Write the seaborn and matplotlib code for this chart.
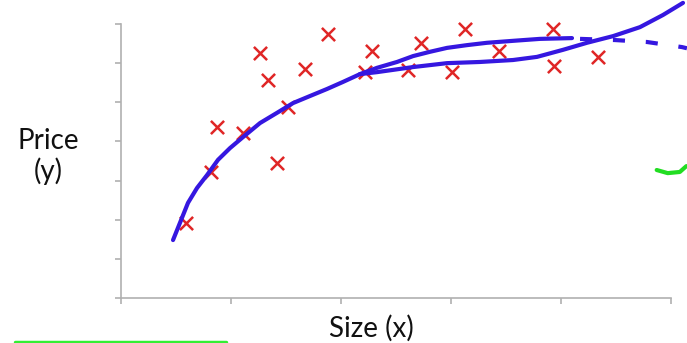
import matplotlib
matplotlib.use("Agg")
import matplotlib.pyplot as plt
import seaborn as sns
import pandas as pd

# Data points (Size, Price)
size_pts = [0.59, 0.82, 0.87, 1.11, 1.26, 1.34, 1.42, 1.52, 1.67, 1.88,
            2.22, 2.28, 2.61, 2.73, 3.01, 3.13, 3.44, 3.93, 3.94, 4.34]
price_pts = [1.92, 3.22, 4.37, 4.22, 6.26, 5.57, 3.45, 4.88, 5.85, 6.75,
             5.77, 6.31, 5.83, 6.52, 5.77, 6.87, 6.31, 6.87, 5.93, 6.16]

# Hand-drawn fits: shared start
shared_x = [0.473, 0.536, 0.609, 0.691, 0.782, 0.882, 0.991, 1.109, 1.264,
            1.418, 1.564, 1.718, 1.873, 2.018, 2.173]
shared_y = [1.48, 1.92, 2.43, 2.81, 3.14, 3.53, 3.83, 4.11, 4.47,
            4.73, 4.98, 5.16, 5.34, 5.52, 5.72]
# quadratic-looking fit (solid then dashed)
quad_x = [2.173, 2.327, 2.509, 2.655, 2.809, 2.964, 3.145, 3.327, 3.564, 3.809, 4.100]
quad_y = [5.72, 5.88, 6.03, 6.18, 6.29, 6.39, 6.46, 6.52, 6.57, 6.62, 6.64]
quad_dash_x = [4.173, 4.491, 4.782, 5.100, 5.145]
quad_dash_y = [6.62, 6.59, 6.54, 6.41, 6.38]
# cubic-looking fit
cubic_x = [2.173, 2.327, 2.655, 2.964, 3.264, 3.564, 3.782, 4.018, 4.236,
           4.473, 4.718, 4.927, 5.109]
cubic_y = [5.72, 5.77, 5.90, 6.00, 6.03, 6.08, 6.16, 6.34, 6.52,
           6.69, 6.92, 7.23, 7.54]
# green pen annotations
green_r_x = [4.87, 4.97, 5.08, 5.14]
green_r_y = [3.27, 3.19, 3.22, 3.37]
green_b_x = [-0.96, 0.95]
green_b_y = [-1.12, -1.12]

x_ticks = [0, 1, 2, 3, 4, 5]
y_ticks = [0, 1, 2, 3, 4, 5, 6, 7]

sns.set_style("white")
plt.rcParams['font.family'] = ['Lato', 'DejaVu Sans']

fig = plt.figure(figsize=(6.87, 3.43), dpi=100)
ax = fig.add_axes([121/687, 1-298/343, 550/687, 274/343])

blue = "#3517e0"
pts = pd.DataFrame({"size": size_pts, "price": price_pts})
sns.scatterplot(data=pts, x="size", y="price", marker="x", s=90,
                color="#e02626", linewidth=1.8, ax=ax, zorder=3, clip_on=False)

for xs, ys, ls in [(shared_x, shared_y, "-"), (quad_x, quad_y, "-"),
                   (quad_dash_x, quad_dash_y, (0, (2.9, 5.0))), (cubic_x, cubic_y, "-")]:
    df = pd.DataFrame({"x": xs, "y": ys})
    sns.lineplot(data=df, x="x", y="y", sort=False, color=blue, lw=3,
                 linestyle=ls, ax=ax, clip_on=False, zorder=4,
                 solid_capstyle="round", solid_joinstyle="round")

g1 = pd.DataFrame({"x": green_r_x, "y": green_r_y})
sns.lineplot(data=g1, x="x", y="y", sort=False, color="#22dd22", lw=3,
             ax=ax, clip_on=False, solid_capstyle="round")
g2 = pd.DataFrame({"x": green_b_x, "y": green_b_y})
sns.lineplot(data=g2, x="x", y="y", sort=False, color="#33ee33", lw=2.5,
             ax=ax, clip_on=False)

ax.set_xlim(0, 5)
ax.set_ylim(0, 7)
ax.set_xticks(x_ticks)
ax.set_yticks(y_ticks)
ax.set_xticklabels([])
ax.set_yticklabels([])
for s in ["top", "right"]:
    ax.spines[s].set_visible(False)
for s in ["left", "bottom"]:
    ax.spines[s].set_color("#b0b0b0")
    ax.spines[s].set_linewidth(1.2)
ax.tick_params(axis="both", direction="out", length=4, width=1.2,
               color="#b0b0b0", bottom=True, left=True)

ax.set_ylabel("Price\n(y)", rotation=0, fontsize=20, ha="center", va="center",
              linespacing=1.15, color="#111111")
ax.yaxis.set_label_coords(-0.133, 0.515)
ax.set_xlabel("Size (x)", fontsize=20, color="#111111", va="center")
ax.xaxis.set_label_coords(0.4545, -0.11)

fig.savefig("out.png", dpi=100)
